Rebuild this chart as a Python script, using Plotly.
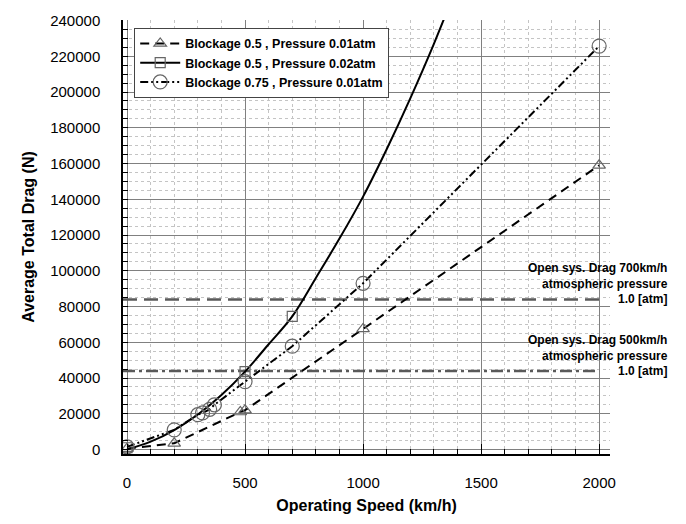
import plotly.graph_objects as go

# Operating speed (km/h) and average total drag (N) for each configuration
speed_b05_p001 = [0, 200, 480, 500, 1000, 2000]
drag_b05_p001 = [500, 3500, 21000, 22000, 67500, 159000]

speed_b05_p002 = [0, 100, 200, 300, 400, 500, 600, 700, 800, 900, 1000, 1100, 1200, 1300, 1400]
drag_b05_p002 = [0, 4400, 10900, 19600, 30500, 43600, 58900, 74500, 96000, 118000, 141500, 168000, 196500, 227000, 260000]
marker_speed_b05_p002 = [0, 500, 700]
marker_drag_b05_p002 = [1000, 43600, 74500]

speed_b075_p001 = [0, 200, 300, 320, 350, 370, 500, 700, 1000, 2000]
drag_b075_p001 = [1500, 11000, 19500, 20500, 22500, 25000, 38000, 57800, 93000, 225700]

# Open-system reference drag at atmospheric pressure (1.0 atm)
open_sys_speed = [-17, 2000]
open_sys_drag_700 = 84000
open_sys_drag_500 = 44000
open_sys_labels = ["Open sys. Drag 700km/h<br>atmospheric pressure<br>1.0 [atm]",
                   "Open sys. Drag 500km/h<br>atmospheric pressure<br>1.0 [atm]"]

FONT = "Arial, Liberation Sans, sans-serif"

fig = go.Figure()

# Reference lines for the open system
fig.add_trace(go.Scatter(
    x=open_sys_speed, y=[open_sys_drag_700] * 2, mode="lines",
    line=dict(color="#5a5a5a", width=2.5, dash="14px,7px"), showlegend=False, hoverinfo="skip"))
fig.add_trace(go.Scatter(
    x=open_sys_speed, y=[open_sys_drag_500] * 2, mode="lines",
    line=dict(color="#5a5a5a", width=2.5, dash="12px,4px,3px,4px"), showlegend=False, hoverinfo="skip"))

# Blockage 0.5, 0.01 atm
fig.add_trace(go.Scatter(
    x=speed_b05_p001, y=drag_b05_p001, mode="lines+markers",
    name="Blockage 0.5 , Pressure 0.01atm",
    line=dict(color="black", width=2, dash="9px,6px"),
    marker=dict(symbol="triangle-up-open", size=11, color="#666666", line=dict(width=1.2))))

# Blockage 0.5, 0.02 atm: smooth curve plus marked points
fig.add_trace(go.Scatter(
    x=speed_b05_p002, y=drag_b05_p002, mode="lines", line=dict(color="black", width=2),
    line_shape="spline", showlegend=False, hoverinfo="skip"))
fig.add_trace(go.Scatter(
    x=marker_speed_b05_p002, y=marker_drag_b05_p002, mode="markers",
    marker=dict(symbol="square-open", size=10, color="#666666", line=dict(width=1.2)),
    showlegend=False))
fig.add_trace(go.Scatter(
    x=[None], y=[None], mode="lines+markers", name="Blockage 0.5 , Pressure 0.02atm",
    line=dict(color="black", width=2),
    marker=dict(symbol="square-open", size=10, color="#666666", line=dict(width=1.2))))

# Blockage 0.75, 0.01 atm
fig.add_trace(go.Scatter(
    x=speed_b075_p001, y=drag_b075_p001, mode="lines+markers",
    name="Blockage 0.75 , Pressure 0.01atm",
    line=dict(color="black", width=2, dash="8px,3px,2px,3px,2px,3px"),
    marker=dict(symbol="circle-open", size=14, color="#666666", line=dict(width=1.2))))

# Labels for the open-system lines, last line level with its line
for text, yv in zip(open_sys_labels, [open_sys_drag_700, open_sys_drag_500]):
    fig.add_annotation(
        x=(670 - 123) / 487, xref="paper", y=yv, yref="y", text=text, align="right",
        showarrow=False, xanchor="right", yanchor="bottom", yshift=-9,
        font=dict(family=FONT, size=12, color="black", weight="bold"))

fig.update_layout(
    width=686, height=524,
    margin=dict(l=123, r=76, t=17, b=63),
    paper_bgcolor="white", plot_bgcolor="white",
    font=dict(family=FONT, color="black"),
    legend=dict(
        x=0.023, y=0.982, xanchor="left", yanchor="top",
        bgcolor="white", bordercolor="#444444", borderwidth=1,
        font=dict(family=FONT, size=12.5, weight="bold"),
        tracegroupgap=0, itemwidth=40),
    showlegend=True,
)

fig.update_xaxes(
    range=[-17, 2046], tick0=0, dtick=500,
    showline=True, linecolor="black", linewidth=1.5,
    ticks="inside", ticklen=10, tickcolor="black", tickwidth=1.2,
    showgrid=True, gridcolor="#808080", gridwidth=1, zeroline=False,
    minor=dict(dtick=100, ticks="inside", ticklen=5, tickcolor="black",
               showgrid=True, gridcolor="#c4c4c4", griddash="dot", gridwidth=1),
    tickfont=dict(family=FONT, size=15), ticklabelstandoff=14,
    title=dict(text="Operating Speed (km/h)", font=dict(family=FONT, size=16, weight="bold"), standoff=10),
)
fig.update_yaxes(
    range=[-2500, 240300], tick0=0, dtick=20000, tickformat="d",
    showline=True, linecolor="black", linewidth=1.5,
    ticks="inside", ticklen=5, tickcolor="black", tickwidth=1.2,
    showgrid=True, gridcolor="#808080", gridwidth=1, zeroline=False,
    minor=dict(dtick=5000, ticks="inside", ticklen=5, tickcolor="black",
               showgrid=True, gridcolor="#c4c4c4", griddash="dot", gridwidth=1),
    tickfont=dict(family=FONT, size=15), ticklabelstandoff=18,
    title=dict(text="Average Total Drag (N)", font=dict(family=FONT, size=16, weight="bold"), standoff=12),
)

fig.write_html("out.html")
